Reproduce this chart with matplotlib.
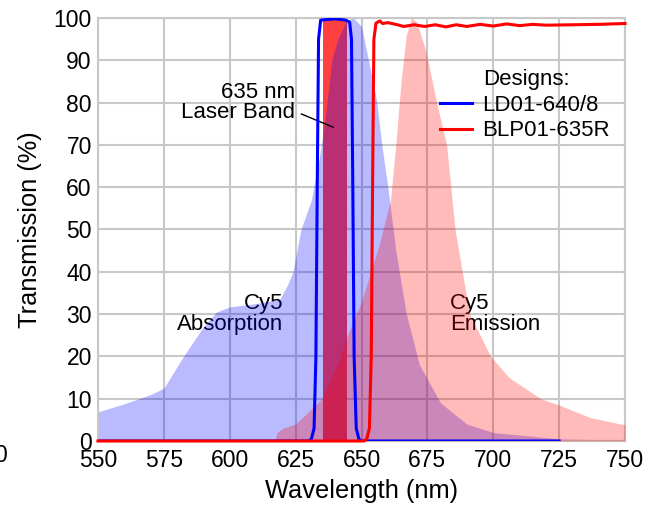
import matplotlib
matplotlib.use("Agg")
import matplotlib.pyplot as plt
from matplotlib.lines import Line2D

plt.rcParams['font.family'] = ['Liberation Sans', 'DejaVu Sans']

# Cy5 absorption (blue shaded)
abs_wl = [550, 560, 570, 575, 582, 590, 595, 600, 610, 619, 622, 624, 627, 631, 634, 636,
          638.7, 641, 644.4, 647, 650, 652, 655.7, 657.7, 660, 663, 667, 672, 680, 690, 700, 725, 750]
abs_t = [6.9, 8.8, 11, 12.5, 19.6, 27, 30.5, 31.7, 32.5, 33.5, 37, 40, 50, 57, 67, 75,
         90, 95, 99.5, 100, 98, 92, 80.6, 70, 60, 45, 30, 18, 9, 4, 2, 0.5, 0.2]

# Cy5 emission (red shaded)
em_wl = [617, 618, 620, 625, 630, 635, 640, 642, 644, 650, 657, 661, 663, 665, 667, 669,
         671, 674.5, 678.5, 682.3, 685.5, 691, 699, 706, 718, 725, 737, 750]
em_t = [0, 2, 3, 4, 7, 10, 17, 20, 24, 33, 47, 57, 70, 85, 96, 100,
        99, 92, 80, 70, 50, 30, 20, 15, 10, 8.5, 5.5, 3.8]

# LD01-640/8 (blue line)
ld_wl = [550, 630, 631, 632, 632.7, 633.2, 633.7, 634.5, 640, 644, 645.5, 646.2, 646.7, 647.2, 648, 649, 650, 725]
ld_t = [0, 0, 0.5, 3, 20, 60, 95, 99.5, 99.8, 99.5, 99, 95, 60, 20, 3, 0.5, 0, 0]

# BLP01-635R (red line)
blp_wl = [550, 651, 652, 653, 653.7, 654.2, 654.7, 655.5, 657, 658, 660, 663, 666, 670, 674, 678,
          682, 686, 690, 695, 700, 705, 710, 715, 720, 730, 740, 750]
blp_t = [0, 0, 0.5, 3, 20, 60, 95, 98.8, 99.3, 98.7, 98.9, 98.5, 98.0, 98.4, 98.0, 98.4,
         97.9, 98.4, 98.0, 98.5, 98.1, 98.6, 98.2, 98.5, 98.3, 98.4, 98.5, 98.7]

laser_band = [635.3, 644.5]

x_ticks = [550, 575, 600, 625, 650, 675, 700, 725, 750]
y_ticks = [0, 10, 20, 30, 40, 50, 60, 70, 80, 90, 100]

fs = 16
fs_tick = 16.5
fs_lab = 18.3
fig = plt.figure(figsize=(6.46, 5.05), dpi=100)
ax = fig.add_axes([98/646, 1-441/505, (625-98)/646, (441-18)/505])

ax.set_xlim(550, 750)
ax.set_ylim(0, 100)
ax.set_xticks(x_ticks)
ax.set_yticks(y_ticks)
ax.tick_params(length=0, labelsize=fs_tick)
ax.tick_params(axis='y', pad=4.5)
ax.tick_params(axis='x', pad=5.5)
ax.grid(True, color='#c8c8c8', lw=1.5, zorder=0.5)
ax.set_axisbelow(True)
for s in ax.spines.values():
    s.set_color('#c8c8c8')
    s.set_linewidth(1.5)

ax.axvspan(laser_band[0], laser_band[1], color='#ff4040', lw=0, zorder=1)

ax.text(624.8, 80.1, "635 nm\nLaser Band", ha='right', va='center', multialignment='right',
        fontsize=fs, linespacing=0.95, zorder=1.5)
ax.text(620.2, 30.0, "Cy5\nAbsorption", ha='right', va='center', multialignment='right',
        fontsize=fs, linespacing=0.95, zorder=1.5)
ax.text(683.6, 30.0, "Cy5\nEmission", ha='left', va='center', multialignment='left',
        fontsize=fs, linespacing=0.95, zorder=1.5)

ax.fill_between(abs_wl, abs_t, 0, color='blue', alpha=0.27, lw=0, zorder=2)
ax.fill_between(em_wl, em_t, 0, color='red', alpha=0.27, lw=0, zorder=3)

ax.plot([627.2, 639.2], [77.3, 74.2], color='black', lw=1, zorder=4)

ax.plot(ld_wl, ld_t, color='#0000ff', lw=2.2, zorder=5, solid_joinstyle='round')
ax.plot(blp_wl, blp_t, color='#ff0000', lw=2.2, zorder=6, solid_joinstyle='round', clip_on=False)

ax.set_xlabel("Wavelength (nm)", fontsize=fs_lab, labelpad=5)
ax.set_ylabel("Transmission (%)", fontsize=fs_lab, labelpad=8)

ax.text(0.7306, 0.855, "Designs:", transform=ax.transAxes, ha='left', va='center', fontsize=fs)
handles = [Line2D([], [], color='#0000ff', lw=2.2), Line2D([], [], color='#ff0000', lw=2.2)]
ax.legend(handles, ["LD01-640/8", "BLP01-635R"], loc='upper left', bbox_to_anchor=(0.649, 0.818),
          frameon=False, fontsize=fs, handlelength=1.44, handletextpad=0.45, labelspacing=0.2,
          borderpad=0, borderaxespad=0)

fig.text(7/646, 1-455/505, "0", ha='right', va='center', fontsize=fs_tick)

fig.savefig("out.png", dpi=100)
